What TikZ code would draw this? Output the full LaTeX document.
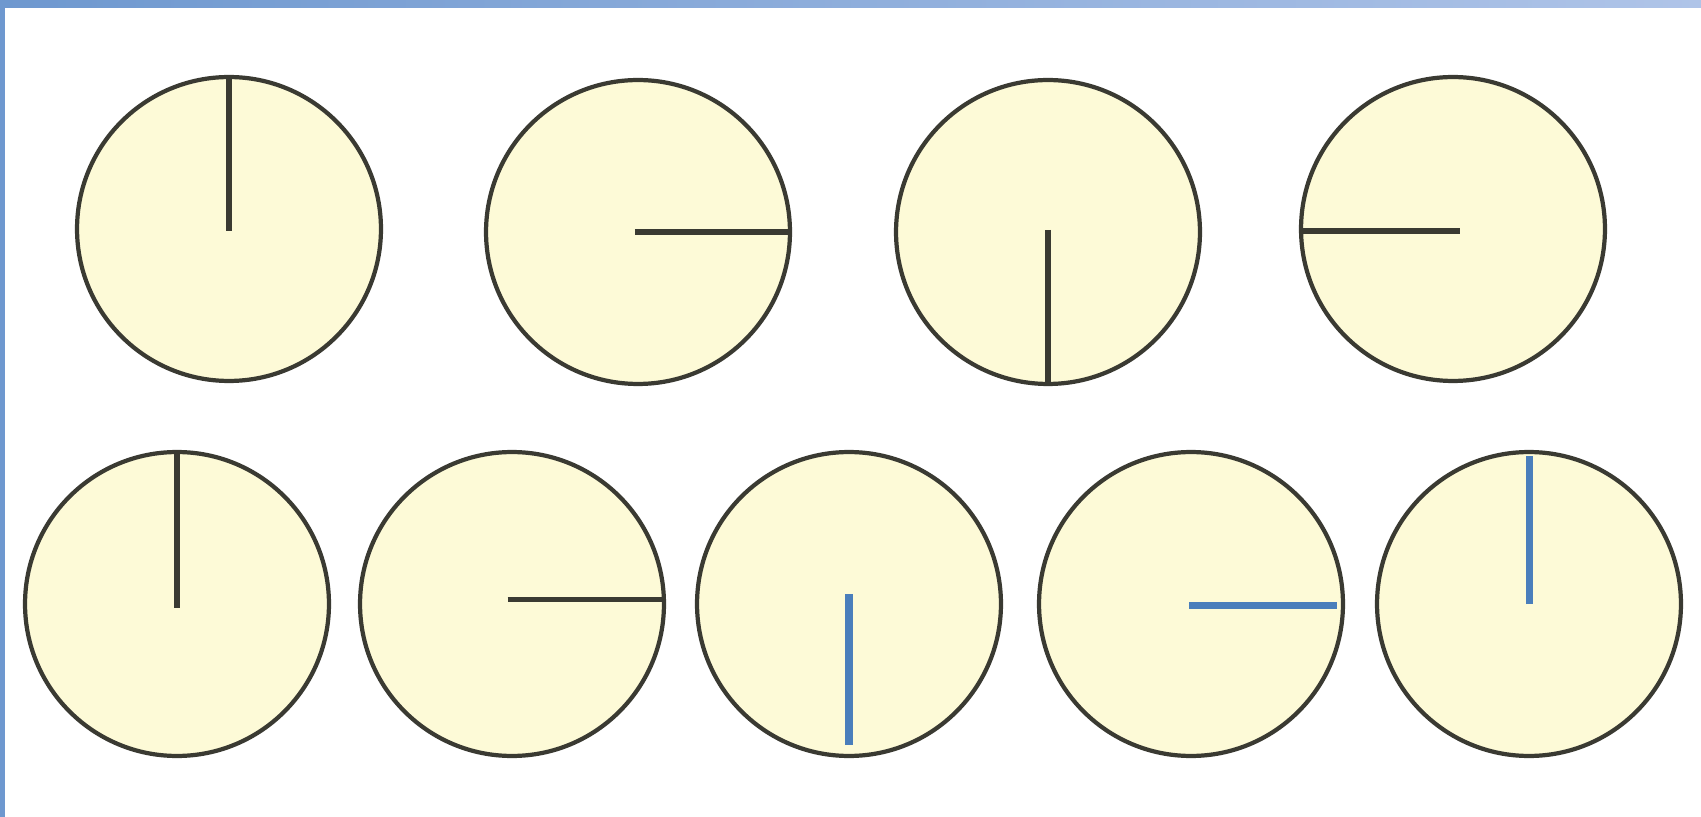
\documentclass[tikz,border=0pt]{standalone}
\begin{document}
\definecolor{dialfill}{HTML}{FDFAD7}
\definecolor{rimcol}{HTML}{3A3A32}
\definecolor{handblue}{HTML}{4A7EBB}
\definecolor{barleft}{HTML}{6E98CF}
\definecolor{barright}{HTML}{AFC4E8}
\begin{tikzpicture}[x=0.02cm,y=-0.02cm,
    dial/.style={circle, draw=rimcol, line width=2.4pt, fill=dialfill,
      minimum size=6.08cm, inner sep=0pt, outer sep=0pt},
    hand/.style={line width=3.2pt, draw=rimcol},
    bhand/.style={line width=4pt, draw=handblue}]
  \useasboundingbox (0,0) rectangle (1701,817);
  \fill[white] (0,0) rectangle (1701,817);
  \shade[left color=barleft, right color=barright] (0,0) rectangle (1701,8);
  \fill[barleft] (0,0) rectangle (5,817);
  % top row
  \node[dial] (A) at (229,229) {}; \node[dial] (B) at (638,232) {};
  \node[dial] (C) at (1048,232) {}; \node[dial] (D) at (1453,229) {};
  \draw[hand] ([yshift=-1pt]A.center) -- (A.north);
  \draw[hand] ([xshift=-1.8pt]B.center) -- (B.east);
  \draw[hand] ([yshift=1.2pt]C.center) -- (C.south);
  \draw[hand] ([xshift=3.7pt,yshift=-1.2pt]D.center) -- ([yshift=-1.2pt]D.west);
  % bottom row
  \node[dial] (E) at (177,604) {}; \node[dial] (F) at (512,604) {};
  \node[dial] (G) at (849,604) {}; \node[dial] (H) at (1191,604) {};
  \node[dial] (I) at (1529,604) {};
  \draw[hand] ([yshift=-2pt]E.center) -- (E.north);
  \draw[hand] ([xshift=-2.5pt,yshift=2.5pt]F.center) -- ([yshift=2.5pt]F.east);
  \draw[bhand] ([yshift=5.5pt]G.center) -- ([yshift=6pt]G.south);
  \draw[bhand] ([xshift=-1pt,yshift=-0.6pt]H.center) -- ([xshift=-3.5pt,yshift=-0.6pt]H.east);
  \draw[bhand] (I.center) -- ([yshift=-2.5pt]I.north);
\end{tikzpicture}
\end{document}
